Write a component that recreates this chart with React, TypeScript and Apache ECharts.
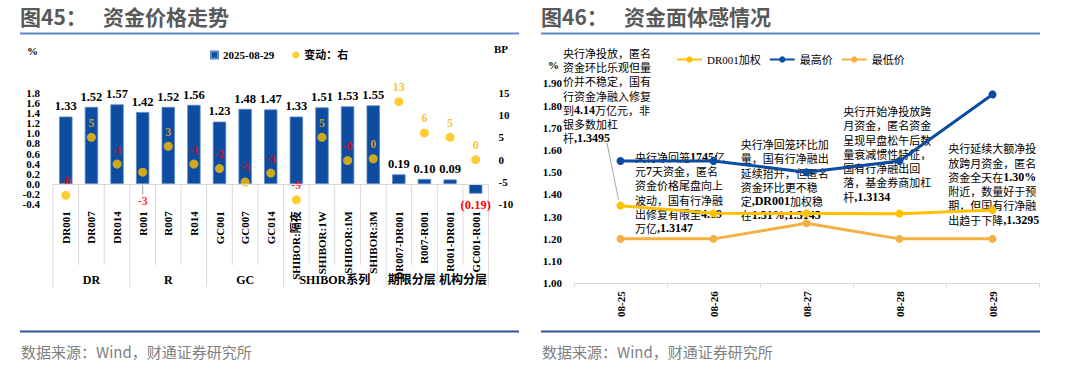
import React, { useEffect, useRef } from 'react';
import * as echarts from 'echarts';

// ---------- Left chart data (图45) ----------
const categories = ['DR001', 'DR007', 'DR014', 'R001', 'R007', 'R014', 'GC001', 'GC007', 'GC014', 'SHIBOR:隔夜', 'SHIBOR:1W', 'SHIBOR:1M', 'SHIBOR:3M', 'DR007-DR001', 'R007-R001', 'R001-DR001', 'GC001-R001'];
const rateValues = [1.33, 1.52, 1.57, 1.42, 1.52, 1.56, 1.23, 1.48, 1.47, 1.33, 1.51, 1.53, 1.55, 0.19, 0.10, 0.09, -0.19];
const changeBP = [-8, 5, -1, -2.8, 3, -1, -2, -5, -3, -9, 5, -0.2, 0.2, 13, 6, 5, 0];
const groupNames = ['DR', 'R', 'GC', 'SHIBOR系列', '期限分层', '机构分层'];
const groupSizes = [3, 3, 3, 4, 2, 2];
const leftTickLabels = ['-0.4', '-0.2', '0.0', '0.2', '0.4', '0.6', '0.8', '1.0', '1.2', '1.4', '1.6', '1.8'];
const barSeriesName = '2025-08-29';
const dotSeriesName = '变动：右';

// ---------- Right chart data (图46) ----------
const dates = ['08-25', '08-26', '08-27', '08-28', '08-29'];
const dr001Weighted = [1.3495, 1.3147, 1.3145, 1.3134, 1.3295];
const highPrice = [1.55, 1.55, 1.50, 1.55, 1.85];
const lowPrice = [1.20, 1.20, 1.27, 1.20, 1.20];
const notes = [
  ['央行净投放，匿名', '资金环比乐观但量', '价并不稳定，国有', '行资金净融入修复', '到4.14万亿元，非', '银多数加杠', '杆,1.3495'],
  ['央行净回笼1745亿', '元7天资金，匿名', '资金价格尾盘向上', '波动，国有行净融', '出修复有限至4.19', '万亿,1.3147'],
  ['央行净回笼环比加', '量，国有行净融出', '延续抬升，但匿名', '资金环比更不稳', '定,DR001加权稳', '在1.31%,1.3145'],
  ['央行开始净投放跨', '月资金，匿名资金', '呈现早盘松午后数', '量衰减惯性特征，', '国有行净融出回', '落，基金券商加杠', '杆,1.3134'],
  ['央行延续大额净投', '放跨月资金，匿名', '资金全天在1.30%', '附近，数量好于预', '期，但国有行净融', '出趋于下降,1.3295'],
];

const SERIF = "'Liberation Serif','Times New Roman','Noto Sans CJK SC',serif";
const SANS = "'Noto Sans CJK SC','Noto Sans',sans-serif";
const BLUE = '#0c4da2';
const YELLOW = '#FFC000';
const ORANGE = '#F4B142';

function toRich(lines: string[]) {
  return lines
    .map((line) => {
      const runs = line.match(/[\x20-\x7e]+|[^\x20-\x7e]+/g) || [];
      return runs.map((r) => (/^[\x20-\x7e]/.test(r) ? `{a|${r}}` : `{c|${r}}`)).join('');
    })
    .join('\n');
}

export default function App() {
  const ref = useRef<HTMLDivElement>(null);

  useEffect(() => {
    if (!ref.current) return;
    const chart = echarts.init(ref.current, null, { renderer: 'svg' });

    const axisLabelStyle = { fontSize: 11, fontWeight: 'bold' as const, fontFamily: SERIF, color: '#000' };

    const option: any = {
      animation: false,
      grid: [
        { left: 53, right: 591.5, top: 92.7, bottom: 168.7 },
        { left: 574, right: 41, top: 83.3, bottom: 89.7 },
      ],
      legend: [
        {
          data: [
            { name: barSeriesName, icon: 'rect' },
            { name: dotSeriesName, icon: 'circle' },
          ],
          left: 210,
          top: 49.5,
          padding: 0,
          itemWidth: 7,
          itemHeight: 7,
          itemGap: 18,
          textStyle: { fontSize: 11, fontWeight: 'bold', fontFamily: SERIF, color: '#000' },
        },
        {
          data: ['DR001加权', '最高价', '最低价'],
          left: 676,
          top: 54,
          padding: 0,
          itemWidth: 25,
          itemHeight: 8,
          itemGap: 8,
          textStyle: { fontSize: 11, fontFamily: SERIF, color: '#000' },
        },
      ],
      xAxis: [
        {
          type: 'category',
          gridIndex: 0,
          data: categories,
          z: 5,
          axisLine: { onZero: true, onZeroAxisIndex: 0, lineStyle: { color: '#d9d9d9' } },
          axisTick: { show: false },
          axisLabel: { ...axisLabelStyle, rotate: 90, interval: 0, margin: 7 },
        },
        {
          type: 'category',
          gridIndex: 1,
          data: dates,
          axisLine: { lineStyle: { color: '#d9d9d9' } },
          axisTick: { show: true, length: 4, lineStyle: { color: '#d9d9d9' } },
          axisLabel: { ...axisLabelStyle, rotate: 90, interval: 0, margin: 8 },
        },
      ],
      yAxis: [
        {
          type: 'value',
          gridIndex: 0,
          min: -0.4,
          max: 1.8,
          interval: 0.2,
          axisLine: { show: false },
          axisTick: { show: false },
          splitLine: { show: false },
          axisLabel: { show: false },
        },
        {
          type: 'value',
          gridIndex: 0,
          position: 'right',
          min: -10,
          max: 15,
          interval: 5,
          axisLine: { show: false },
          axisTick: { show: false },
          splitLine: { show: false },
          axisLabel: { ...axisLabelStyle, margin: 10, showMinLabel: true, showMaxLabel: true },
        },
        {
          type: 'value',
          gridIndex: 1,
          min: 1,
          max: 1.9,
          interval: 0.1,
          axisLine: { show: false },
          axisTick: { show: false },
          splitLine: { show: false },
          axisLabel: { ...axisLabelStyle, margin: 12, showMinLabel: true, showMaxLabel: true, formatter: (v: number) => v.toFixed(2) },
        },
      ],
      series: [
        {
          name: barSeriesName,
          type: 'bar',
          xAxisIndex: 0,
          yAxisIndex: 0,
          barWidth: '52%',
          itemStyle: { color: BLUE, borderColor: '#5b86c4', borderWidth: 0.8 },
          label: {
            show: true,
            position: 'top',
            distance: 4,
            fontSize: 12.5,
            fontWeight: 'bold',
            fontFamily: SERIF,
            color: '#000',
            formatter: (p: any) => Number(p.value).toFixed(2),
          },
          data: rateValues.map((v) =>
            v < 0
              ? { value: v, label: { position: 'bottom', distance: 5, color: '#ff0000', formatter: '(' + Math.abs(v).toFixed(2) + ')' } }
              : v
          ),
        },
        {
          name: dotSeriesName,
          type: 'scatter',
          xAxisIndex: 0,
          yAxisIndex: 1,
          symbolSize: 9,
          itemStyle: { color: YELLOW },
          label: {
            show: true,
            position: 'top',
            distance: 4,
            fontSize: 12,
            fontWeight: 'bold',
            fontFamily: SERIF,
            formatter: (p: any) => {
              const v = Number(p.value);
              return (v < 0 ? '-' : '') + Math.round(Math.abs(v));
            },
          },
          data: changeBP.map((v, i) => ({
            value: v,
            label: {
              color: v < 0 ? '#ff0000' : '#F0B400',
              ...(i === 3 ? { position: 'bottom', distance: 18 } : {}),
            },
          })),
        },
        {
          name: 'DR001加权',
          type: 'line',
          xAxisIndex: 1,
          yAxisIndex: 2,
          data: dr001Weighted,
          symbol: 'circle',
          symbolSize: 8,
          lineStyle: { color: YELLOW, width: 3 },
          itemStyle: { color: YELLOW },
        },
        {
          name: '最高价',
          type: 'line',
          xAxisIndex: 1,
          yAxisIndex: 2,
          data: highPrice,
          symbol: 'circle',
          symbolSize: 8,
          lineStyle: { color: BLUE, width: 3 },
          itemStyle: { color: BLUE },
        },
        {
          name: '最低价',
          type: 'line',
          xAxisIndex: 1,
          yAxisIndex: 2,
          data: lowPrice,
          symbol: 'circle',
          symbolSize: 8,
          lineStyle: { color: ORANGE, width: 3 },
          itemStyle: { color: ORANGE },
        },
      ],
    };

    chart.setOption(option);

    // ---------- decorations computed through the library's scales ----------
    const g: any[] = [];
    const titleStyle = { fontSize: 21, fontWeight: 'bold', fontFamily: SANS, fill: '#595959' };
    const addText = (x: number, y: number, text: string, style: any) =>
      g.push({ type: 'text', x, y, silent: true, style: { text, verticalAlign: 'middle', ...style } });

    // Titles
    addText(20, 16, '图45：', titleStyle);
    addText(103, 16, '资金价格走势', titleStyle);
    addText(541, 16, '图46：', titleStyle);
    addText(624, 16, '资金面体感情况', titleStyle);
    // Title rules and source notes
    [[20, 519], [541, 1040]].forEach(([a, b]) => {
      g.push({ type: 'line', silent: true, shape: { x1: a, y1: 33.5, x2: b, y2: 33.5 }, style: { stroke: '#5b8ac6', lineWidth: 2 } });
      g.push({ type: 'line', silent: true, shape: { x1: a, y1: 331.5, x2: b, y2: 331.5 }, style: { stroke: '#2f5597', lineWidth: 2 } });
      addText(a + 1, 351, '数据来源：Wind，财通证券研究所', { fontSize: 15, fontFamily: SANS, fill: '#7f7f7f' });
    });

    // Axis unit labels
    const unitStyle = { fontSize: 11, fontWeight: 'bold', fontFamily: SERIF, fill: '#000' };
    addText(27, 51, '%', unitStyle);
    addText(494, 49, 'BP', unitStyle);
    addText(548, 65, '%', unitStyle);

    // Left value-axis tick labels (placed through the axis scale, dense spacing)
    leftTickLabels.forEach((t) => {
      const ty = chart.convertToPixel({ yAxisIndex: 0 }, parseFloat(t)) as number;
      g.push({
        type: 'text',
        silent: true,
        x: 40,
        y: ty,
        style: { text: t, align: 'right', verticalAlign: 'middle', fontSize: 11, fontWeight: 'bold', fontFamily: SERIF, fill: '#000' },
      });
    });

    // Left chart category separators & group labels
    const xs = categories.map((_, i) => chart.convertToPixel({ xAxisIndex: 0 }, i) as number);
    const half = (xs[1] - xs[0]) / 2;
    const bounds = xs.map((x) => x - half).concat([xs[xs.length - 1] + half]);
    const y0 = chart.convertToPixel({ yAxisIndex: 0 }, 0) as number;
    const groupEdges: number[] = [0];
    groupSizes.forEach((s) => groupEdges.push(groupEdges[groupEdges.length - 1] + s));
    bounds.forEach((bx, i) => {
      const isGroup = groupEdges.indexOf(i) >= 0;
      g.push({
        type: 'line',
        silent: true,
        shape: { x1: bx, y1: y0, x2: bx, y2: y0 + (isGroup ? 103 : 81) },
        style: { stroke: '#d9d9d9', lineWidth: 1 },
      });
    });
    groupNames.forEach((name, k) => {
      const cx = (bounds[groupEdges[k]] + bounds[groupEdges[k + 1]]) / 2;
      g.push({
        type: 'text',
        silent: true,
        x: cx,
        y: y0 + 96,
        style: { text: name, align: 'center', verticalAlign: 'middle', fontSize: 12, fontWeight: 'bold', fontFamily: SERIF, fill: '#000' },
      });
    });

    // Leader line for the R001 change label
    const r001 = chart.convertToPixel({ seriesIndex: 1 }, [3, changeBP[3]]) as number[];
    g.push({
      type: 'line',
      silent: true,
      shape: { x1: r001[0], y1: r001[1] + 4, x2: r001[0], y2: r001[1] + 22 },
      style: { stroke: '#a6a6a6', lineWidth: 1 },
    });

    // Right chart annotations
    const notePos = [
      [563, 45.5],
      [635, 149.5],
      [740.7, 136.8],
      [843.3, 103.8],
      [948.3, 141.1],
    ];
    const rich = {
      a: { fontFamily: "'Liberation Serif','Times New Roman',serif", fontWeight: 'bold', fontSize: 12, lineHeight: 14.3, fill: '#000' },
      c: { fontFamily: SANS, fontSize: 11, lineHeight: 14.3, fill: '#000' },
    };
    notes.forEach((lines, k) => {
      g.push({
        type: 'text',
        silent: true,
        x: notePos[k][0],
        y: notePos[k][1],
        style: { text: toRich(lines), rich, verticalAlign: 'top', align: 'left' },
      });
    });
    const p0 = chart.convertToPixel({ seriesIndex: 2 }, [0, dr001Weighted[0]]) as number[];
    g.push({
      type: 'line',
      silent: true,
      shape: { x1: 607, y1: 143, x2: p0[0] - 2, y2: p0[1] - 6 },
      style: { stroke: '#a6a6a6', lineWidth: 1 },
    });

    chart.setOption({ graphic: g });

    return () => chart.dispose();
  }, []);

  return <div ref={ref} style={{ position: 'fixed', left: 0, top: 0, width: 1080, height: 373, background: '#fff' }} />;
}
